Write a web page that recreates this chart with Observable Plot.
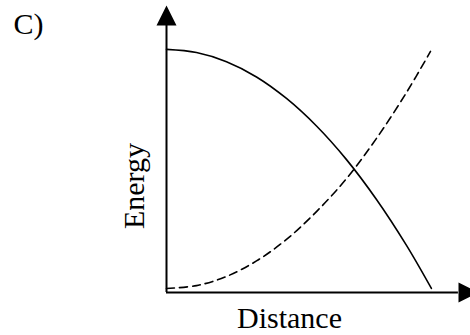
<!DOCTYPE html>
<html>
<head>
<meta charset="utf-8">
<script src="https://cdn.jsdelivr.net/npm/d3@7"></script>
<script src="https://cdn.jsdelivr.net/npm/@observablehq/plot@0.6"></script>
<style>
  html, body { margin: 0; padding: 0; background: white; }
  #chart svg { display: block; overflow: visible; }
</style>
</head>
<body>
<div id="chart"></div>
<script>
// Panel label and axis titles
const panelLabel = ["C)"];
const xTitle = ["Distance"];
const yTitle = ["Energy"];

// Solid curve (decreasing)
const solidDistance = [0, 1, 2, 3, 4, 5, 6, 7, 8, 8.83];
const solidEnergy   = [8.47, 8.36, 8.04, 7.51, 6.76, 5.80, 4.63, 3.24, 1.64, 0.14];

// Dashed curve (increasing)
const dashedDistance = [0, 1, 2, 3, 4, 5, 6, 7, 8, 8.8];
const dashedEnergy   = [0.14, 0.24, 0.56, 1.10, 1.85, 2.82, 3.97, 5.37, 6.97, 8.40];

// Axis extents (in data units)
const xAxisEnd = 9.73, xArrowTip = 10.4;
const yAxisEnd = 9.3,  yArrowTip = 10;

const solid = solidDistance.map((d, i) => ({distance: d, energy: solidEnergy[i]}));
const dashed = dashedDistance.map((d, i) => ({distance: d, energy: dashedEnergy[i]}));

const arrowUp = {draw(ctx) { ctx.moveTo(0, 0); ctx.lineTo(-10, 20); ctx.lineTo(10, 20); ctx.closePath(); }};
const arrowRight = {draw(ctx) { ctx.moveTo(0, 0); ctx.lineTo(-20, -10); ctx.lineTo(-20, 10); ctx.closePath(); }};

const font = "'Liberation Serif', 'Times New Roman', serif";

const chart = Plot.plot({
  width: 470,
  height: 335,
  marginLeft: 166,
  marginRight: 4,
  marginTop: 5,
  marginBottom: 43,
  x: {domain: [0, 10], axis: null},
  y: {domain: [0, 10], axis: null},
  style: {fontFamily: font, background: "white"},
  marks: [
    Plot.ruleX([0], {y1: 0, y2: yAxisEnd, stroke: "black", strokeWidth: 2}),
    Plot.ruleY([0], {x1: 0, x2: xAxisEnd, stroke: "black", strokeWidth: 2}),
    Plot.dot([{x: 0, y: yArrowTip}], {x: "x", y: "y", symbol: arrowUp, fill: "black", stroke: null}),
    Plot.dot([{x: xArrowTip, y: 0}], {x: "x", y: "y", symbol: arrowRight, fill: "black", stroke: null}),
    Plot.line(solid, {x: "distance", y: "energy", curve: "catmull-rom", stroke: "black", strokeWidth: 1.6}),
    Plot.line(dashed, {x: "distance", y: "energy", curve: "catmull-rom", stroke: "black", strokeWidth: 1.6, strokeDasharray: "8,5"}),
    Plot.text(panelLabel, {text: d => d, frameAnchor: "top-left", textAnchor: "start", lineAnchor: "top", dx: -153, dy: 7, fontSize: 30, fill: "black"}),
    Plot.text(xTitle, {text: d => d, frameAnchor: "bottom", textAnchor: "middle", lineAnchor: "top", dx: -27, dy: 14, fontSize: 30, fill: "black"}),
    Plot.text(yTitle, {text: d => d, frameAnchor: "left", textAnchor: "middle", lineAnchor: "middle", rotate: -90, dx: -32, dy: 37, fontSize: 30, fill: "black"})
  ]
});
document.getElementById("chart").appendChild(chart);
</script>
</body>
</html>
